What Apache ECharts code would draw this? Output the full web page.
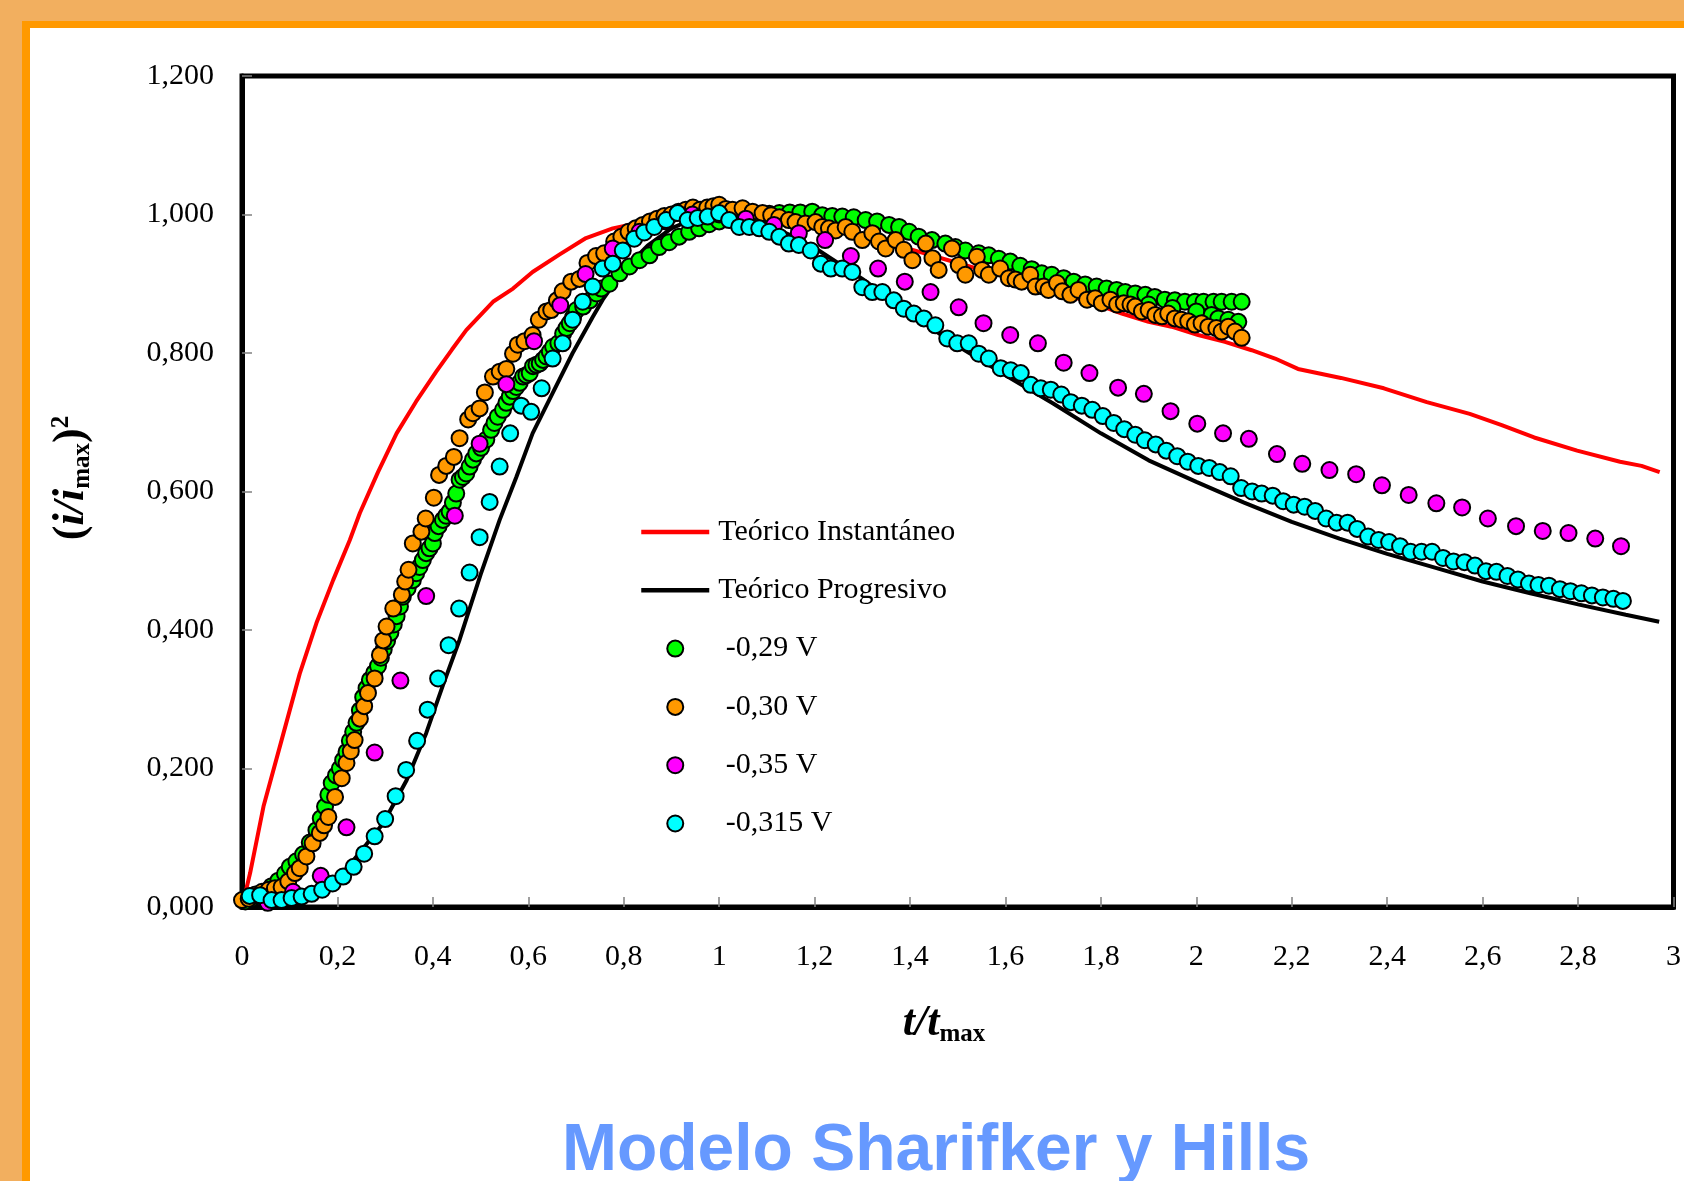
<!DOCTYPE html>
<html>
<head>
<meta charset="utf-8">
<script src="https://cdn.jsdelivr.net/npm/echarts/dist/echarts.min.js"></script>
<style>
html,body{margin:0;padding:0;background:#fff;}
#chart{width:1684px;height:1181px;}
</style>
</head>
<body>
<div id="chart"></div>
<script>
// ---------------- DATA ----------------
const seriesNames = ['Teórico Instantáneo', 'Teórico Progresivo', '-0,29 V', '-0,30 V', '-0,35 V', '-0,315 V'];
const seriesColors = ['#FF0000', '#000000', '#00FF00', '#FF9900', '#FF00FF', '#00FFFF'];

const xTicks = { min: 0, max: 3, interval: 0.2 };
const yTicks = { min: 0, max: 1.2, interval: 0.2 };

const redInstantaneo = [[0.007,0.02],[0.017,0.049],[0.045,0.145],[0.083,0.241],[0.121,0.337],[0.156,0.410],[0.191,0.472],[0.226,0.530],[0.247,0.569],[0.285,0.628],[0.324,0.684],[0.365,0.730],[0.407,0.773],[0.440,0.805],[0.470,0.833],[0.526,0.874],[0.568,0.893],[0.609,0.917],[0.665,0.942],[0.721,0.966],[0.777,0.980],[0.833,0.988],[0.868,0.993],[0.92,0.998],[1.0,1.0],[1.1,0.995],[1.2,0.985],[1.3,0.968],[1.4,0.950],[1.5,0.930],[1.6,0.910],[1.7,0.89],[1.8,0.868],[1.844,0.857],[1.900,0.845],[1.948,0.838],[2.004,0.826],[2.060,0.816],[2.116,0.804],[2.165,0.792],[2.213,0.777],[2.303,0.764],[2.393,0.749],[2.483,0.729],[2.573,0.712],[2.640,0.696],[2.708,0.678],[2.798,0.659],[2.888,0.643],[2.933,0.637],[2.971,0.628]];

const blackProgresivo = [[0.0,0.0],[0.05,0.0],[0.1,0.002],[0.15,0.012],[0.2,0.042],[0.226,0.061],[0.26,0.09],[0.296,0.121],[0.345,0.183],[0.386,0.251],[0.421,0.320],[0.456,0.386],[0.5,0.48],[0.54,0.559],[0.575,0.621],[0.609,0.684],[0.651,0.742],[0.693,0.800],[0.735,0.852],[0.756,0.877],[0.8,0.92],[0.85,0.955],[0.9,0.98],[0.95,0.995],[1.0,1.0],[1.05,0.995],[1.1,0.985],[1.15,0.97],[1.2,0.952],[1.3,0.907],[1.4,0.857],[1.5,0.81],[1.6,0.768],[1.7,0.727],[1.8,0.684],[1.9,0.645],[2.0,0.614],[2.1,0.584],[2.2,0.556],[2.3,0.532],[2.4,0.51],[2.5,0.49],[2.6,0.47],[2.7,0.453],[2.8,0.437],[2.9,0.422],[2.97,0.412]];

const green029 = [[0.007,0.008],[0.020,0.012],[0.034,0.016],[0.048,0.022],[0.062,0.030],[0.076,0.038],[0.090,0.048],[0.100,0.058],[0.114,0.066],[0.128,0.076],[0.142,0.093],[0.156,0.111],[0.165,0.128],[0.174,0.145],[0.181,0.162],[0.188,0.179],[0.197,0.190],[0.205,0.200],[0.212,0.212],[0.219,0.224],[0.226,0.240],[0.233,0.253],[0.240,0.266],[0.247,0.284],[0.254,0.303],[0.261,0.316],[0.268,0.328],[0.277,0.338],[0.285,0.348],[0.291,0.360],[0.297,0.372],[0.304,0.384],[0.311,0.396],[0.318,0.408],[0.324,0.420],[0.331,0.434],[0.337,0.448],[0.347,0.460],[0.358,0.472],[0.365,0.482],[0.372,0.491],[0.379,0.501],[0.386,0.511],[0.393,0.518],[0.400,0.525],[0.404,0.540],[0.412,0.550],[0.421,0.559],[0.428,0.565],[0.435,0.571],[0.442,0.584],[0.449,0.597],[0.456,0.617],[0.463,0.621],[0.470,0.626],[0.477,0.636],[0.484,0.646],[0.491,0.655],[0.501,0.663],[0.512,0.675],[0.522,0.689],[0.529,0.699],[0.536,0.708],[0.547,0.718],[0.554,0.728],[0.561,0.737],[0.568,0.745],[0.575,0.751],[0.582,0.757],[0.589,0.766],[0.596,0.768],[0.603,0.771],[0.610,0.781],[0.617,0.783],[0.624,0.785],[0.631,0.790],[0.638,0.795],[0.645,0.802],[0.652,0.809],[0.663,0.814],[0.673,0.828],[0.680,0.836],[0.687,0.843],[0.694,0.852],[0.701,0.862],[0.715,0.867],[0.729,0.876],[0.743,0.886],[0.753,0.893],[0.770,0.900],[0.791,0.915],[0.812,0.925],[0.833,0.934],[0.854,0.941],[0.874,0.953],[0.895,0.960],[0.916,0.968],[0.937,0.975],[0.958,0.980],[0.979,0.986],[1.000,0.990],[1.021,0.994],[1.042,0.997],[1.063,0.999],[1.084,1.000],[1.105,1.001],[1.126,1.002],[1.148,1.003],[1.170,1.003],[1.195,1.004],[1.216,0.999],[1.237,0.998],[1.258,0.997],[1.282,0.996],[1.307,0.992],[1.331,0.990],[1.356,0.985],[1.377,0.982],[1.398,0.975],[1.418,0.968],[1.446,0.963],[1.474,0.958],[1.495,0.953],[1.516,0.948],[1.544,0.944],[1.565,0.941],[1.586,0.936],[1.610,0.932],[1.631,0.926],[1.655,0.921],[1.676,0.915],[1.697,0.913],[1.722,0.908],[1.743,0.903],[1.767,0.899],[1.791,0.896],[1.812,0.893],[1.833,0.891],[1.851,0.888],[1.872,0.886],[1.893,0.884],[1.913,0.881],[1.934,0.877],[1.955,0.876],[1.976,0.874],[1.997,0.874],[2.015,0.874],[2.036,0.874],[2.053,0.874],[2.074,0.874],[2.095,0.874],[1.900,0.870],[1.950,0.865],[2.000,0.860],[2.032,0.855],[2.046,0.850],[2.067,0.848],[2.088,0.845]];

const orange030 = [[0.000,0.010],[0.014,0.012],[0.028,0.018],[0.042,0.022],[0.056,0.025],[0.069,0.027],[0.083,0.029],[0.097,0.037],[0.111,0.049],[0.121,0.056],[0.135,0.073],[0.148,0.092],[0.163,0.107],[0.172,0.118],[0.181,0.130],[0.195,0.159],[0.209,0.186],[0.219,0.208],[0.228,0.225],[0.236,0.241],[0.247,0.272],[0.256,0.290],[0.264,0.309],[0.278,0.330],[0.289,0.364],[0.296,0.385],[0.303,0.405],[0.317,0.431],[0.335,0.451],[0.342,0.470],[0.349,0.487],[0.358,0.525],[0.376,0.542],[0.385,0.561],[0.402,0.591],[0.413,0.624],[0.428,0.637],[0.444,0.650],[0.456,0.677],[0.474,0.704],[0.484,0.713],[0.498,0.720],[0.509,0.743],[0.526,0.766],[0.540,0.773],[0.554,0.777],[0.568,0.799],[0.578,0.812],[0.592,0.817],[0.609,0.826],[0.622,0.848],[0.638,0.860],[0.648,0.862],[0.660,0.876],[0.672,0.889],[0.690,0.903],[0.707,0.907],[0.724,0.930],[0.742,0.940],[0.759,0.944],[0.780,0.961],[0.795,0.968],[0.810,0.975],[0.825,0.980],[0.840,0.985],[0.855,0.990],[0.870,0.994],[0.885,0.998],[0.900,1.000],[0.915,1.004],[0.930,1.007],[0.945,1.010],[0.960,1.007],[0.975,1.010],[0.988,1.012],[1.000,1.014],[1.014,1.008],[1.028,1.007],[1.049,1.009],[1.070,1.004],[1.091,1.002],[1.109,0.999],[1.126,0.996],[1.146,0.992],[1.160,0.989],[1.181,0.987],[1.202,0.989],[1.216,0.982],[1.230,0.980],[1.244,0.977],[1.265,0.982],[1.279,0.975],[1.300,0.963],[1.321,0.973],[1.335,0.961],[1.349,0.951],[1.370,0.963],[1.387,0.949],[1.405,0.934],[1.433,0.958],[1.447,0.937],[1.460,0.920],[1.488,0.951],[1.502,0.927],[1.516,0.913],[1.540,0.939],[1.551,0.920],[1.565,0.913],[1.589,0.922],[1.607,0.908],[1.621,0.906],[1.634,0.903],[1.652,0.913],[1.663,0.896],[1.680,0.896],[1.690,0.891],[1.708,0.901],[1.719,0.889],[1.736,0.884],[1.753,0.891],[1.771,0.877],[1.788,0.879],[1.802,0.872],[1.820,0.877],[1.834,0.870],[1.848,0.872],[1.862,0.870],[1.872,0.867],[1.886,0.860],[1.900,0.862],[1.914,0.855],[1.928,0.853],[1.941,0.857],[1.955,0.850],[1.969,0.848],[1.983,0.846],[1.997,0.841],[2.011,0.843],[2.025,0.838],[2.042,0.836],[2.053,0.831],[2.067,0.838],[2.081,0.831],[2.095,0.822]];

const magenta035 = [[0.054,0.006],[0.107,0.022],[0.165,0.045],[0.219,0.115],[0.278,0.223],[0.332,0.327],[0.386,0.449],[0.446,0.565],[0.498,0.669],[0.554,0.755],[0.612,0.817],[0.667,0.869],[0.720,0.914],[0.777,0.951],[0.833,0.975],[0.888,0.990],[0.944,1.000],[1.000,1.000],[1.056,0.994],[1.115,0.985],[1.167,0.973],[1.222,0.963],[1.276,0.940],[1.333,0.922],[1.389,0.903],[1.443,0.888],[1.502,0.866],[1.554,0.843],[1.610,0.826],[1.668,0.814],[1.722,0.786],[1.776,0.771],[1.836,0.750],[1.890,0.741],[1.946,0.716],[2.002,0.698],[2.056,0.684],[2.110,0.676],[2.169,0.654],[2.222,0.640],[2.279,0.631],[2.335,0.625],[2.389,0.609],[2.445,0.595],[2.503,0.583],[2.557,0.577],[2.611,0.561],[2.670,0.550],[2.726,0.543],[2.780,0.540],[2.836,0.532],[2.890,0.521]];

const cyan0315 = [[0.016,0.016],[0.038,0.017],[0.062,0.010],[0.083,0.010],[0.104,0.013],[0.125,0.015],[0.146,0.019],[0.168,0.025],[0.190,0.034],[0.212,0.044],[0.234,0.058],[0.256,0.077],[0.278,0.102],[0.300,0.127],[0.322,0.160],[0.344,0.198],[0.367,0.240],[0.389,0.285],[0.411,0.330],[0.433,0.378],[0.455,0.431],[0.477,0.483],[0.498,0.534],[0.519,0.585],[0.540,0.636],[0.562,0.684],[0.585,0.724],[0.606,0.715],[0.628,0.749],[0.651,0.792],[0.672,0.814],[0.693,0.848],[0.714,0.874],[0.735,0.896],[0.756,0.922],[0.777,0.929],[0.798,0.948],[0.822,0.965],[0.843,0.974],[0.864,0.982],[0.889,0.992],[0.913,1.002],[0.934,0.992],[0.955,0.995],[0.976,0.997],[1.000,1.002],[1.021,0.992],[1.042,0.982],[1.063,0.982],[1.084,0.980],[1.105,0.975],[1.126,0.968],[1.146,0.958],[1.167,0.956],[1.192,0.948],[1.213,0.929],[1.234,0.922],[1.258,0.922],[1.279,0.917],[1.300,0.895],[1.321,0.888],[1.342,0.888],[1.366,0.876],[1.387,0.864],[1.408,0.857],[1.429,0.850],[1.453,0.840],[1.478,0.821],[1.499,0.814],[1.523,0.814],[1.544,0.799],[1.565,0.792],[1.590,0.778],[1.611,0.775],[1.632,0.771],[1.653,0.754],[1.674,0.749],[1.695,0.747],[1.717,0.740],[1.737,0.729],[1.760,0.724],[1.782,0.718],[1.804,0.709],[1.827,0.699],[1.849,0.690],[1.872,0.682],[1.892,0.674],[1.915,0.668],[1.937,0.659],[1.960,0.651],[1.982,0.643],[2.004,0.637],[2.027,0.634],[2.049,0.628],[2.072,0.622],[2.094,0.605],[2.117,0.600],[2.137,0.597],[2.160,0.594],[2.182,0.586],[2.204,0.581],[2.227,0.578],[2.249,0.572],[2.272,0.561],[2.294,0.555],[2.317,0.555],[2.337,0.546],[2.360,0.535],[2.382,0.530],[2.404,0.527],[2.427,0.521],[2.449,0.513],[2.472,0.513],[2.494,0.513],[2.517,0.504],[2.539,0.499],[2.562,0.498],[2.584,0.493],[2.607,0.485],[2.629,0.484],[2.652,0.478],[2.674,0.473],[2.697,0.467],[2.717,0.465],[2.739,0.464],[2.762,0.459],[2.784,0.456],[2.807,0.453],[2.829,0.450],[2.852,0.447],[2.874,0.445],[2.894,0.442]];

const chartTitle = 'Modelo Sharifker y Hills';

// ---------------- CHART ----------------
const SERIF = 'Liberation Serif';
const chart = echarts.init(document.getElementById('chart'), null, {renderer: 'canvas'});

function lineSeries(name, data, color) {
  return {
    name, type: 'line', data, symbol: 'none', showSymbol: false, smooth: false,
    lineStyle: {color, width: 4}, itemStyle: {color}, z: 2, silent: true
  };
}
function dotSeries(name, data, color) {
  return {
    name, type: 'scatter', data, symbol: 'circle', symbolSize: 16,
    itemStyle: {color, borderColor: '#000', borderWidth: 2, opacity: 1}, z: 3, silent: true
  };
}

const legendData = seriesNames.map((n, i) => i < 2
  ? {name: n, itemStyle: {opacity: 0, borderWidth: 0}, lineStyle: {width: 4.5, color: seriesColors[i]}}
  : {name: n});

const option = {
  animation: false,
  backgroundColor: '#ffffff',
  grid: {left: 242, top: 76, width: 1434, height: 831, show: true, borderColor: '#000', borderWidth: 5, backgroundColor: 'transparent'},
  xAxis: {
    type: 'value', min: xTicks.min, max: xTicks.max, interval: xTicks.interval,
    axisLine: {show: true, lineStyle: {color: '#000', width: 5}},
    axisTick: {show: true, inside: true, length: 10, lineStyle: {color: '#808080', width: 1.5}},
    splitLine: {show: false},
    axisLabel: {
      margin: 35, color: '#000', fontFamily: SERIF, fontSize: 30,
      formatter: v => String(Math.round(v * 10) / 10).replace('.', ',')
    }
  },
  yAxis: {
    type: 'value', min: yTicks.min, max: yTicks.max, interval: yTicks.interval,
    axisLine: {show: true, lineStyle: {color: '#000', width: 5}},
    axisTick: {show: true, inside: true, length: 10, lineStyle: {color: '#808080', width: 1.5}},
    splitLine: {show: false},
    axisLabel: {
      margin: 28, color: '#000', fontFamily: SERIF, fontSize: 30,
      formatter: v => v.toFixed(3).replace('.', ',')
    }
  },
  legend: {
    orient: 'vertical', left: 639, top: 517, padding: 0,
    itemGap: 28.3, itemWidth: 68, itemHeight: 16,
    selectedMode: false,
    data: legendData,
    lineStyle: {width: 4.5},
    formatter: n => (n.charAt(0) === '-' ? ' ' + n : n),
    textStyle: {fontFamily: SERIF, fontSize: 30, color: '#000', lineHeight: 30, padding: [0, 0, 0, 4]}
  },
  graphic: [
    {type: 'rect', z: -10, shape: {x: 0, y: 0, width: 1684, height: 22}, style: {fill: '#F2AF5F'}},
    {type: 'rect', z: -10, shape: {x: 0, y: 0, width: 22, height: 1181}, style: {fill: '#F2AF5F'}},
    {type: 'rect', z: -9, shape: {x: 22, y: 21, width: 1662, height: 7}, style: {fill: '#FF9900'}},
    {type: 'rect', z: -9, shape: {x: 22, y: 21, width: 8, height: 1160}, style: {fill: '#FF9900'}},
    {
      type: 'text', z: 50, x: 936, y: 1152,
      style: {text: chartTitle, fill: '#6699FF', fontFamily: 'Liberation Sans', fontWeight: 'bold', fontSize: 66, align: 'center', verticalAlign: 'middle'}
    },
    {
      type: 'text', z: 50, x: 944, y: 1024,
      style: {
        text: '{a|t/t}{b|max}', align: 'center', verticalAlign: 'middle', fill: '#000',
        rich: {
          a: {fontFamily: SERIF, fontStyle: 'italic', fontWeight: 'bold', fontSize: 44, lineHeight: 46, fill: '#000'},
          b: {fontFamily: SERIF, fontWeight: 'bold', fontSize: 25, lineHeight: 16, verticalAlign: 'bottom', fill: '#000'}
        }
      }
    },
    {
      type: 'text', z: 50, x: 72, y: 478, rotation: Math.PI / 2,
      style: {
        text: '{p|(}{a|i/i}{b|max}{p|)}{c|2}', align: 'center', verticalAlign: 'middle', fill: '#000',
        rich: {
          p: {fontFamily: SERIF, fontWeight: 'bold', fontSize: 44, lineHeight: 46, fill: '#000'},
          a: {fontFamily: SERIF, fontStyle: 'italic', fontWeight: 'bold', fontSize: 44, lineHeight: 46, fill: '#000'},
          b: {fontFamily: SERIF, fontWeight: 'bold', fontSize: 25, lineHeight: 16, verticalAlign: 'bottom', fill: '#000'},
          c: {fontFamily: SERIF, fontWeight: 'bold', fontSize: 25, lineHeight: 22, verticalAlign: 'top', fill: '#000'}
        }
      }
    }
  ],
  series: [
    lineSeries(seriesNames[0], redInstantaneo, seriesColors[0]),
    lineSeries(seriesNames[1], blackProgresivo, seriesColors[1]),
    dotSeries(seriesNames[2], green029, seriesColors[2]),
    dotSeries(seriesNames[3], orange030, seriesColors[3]),
    dotSeries(seriesNames[4], magenta035, seriesColors[4]),
    dotSeries(seriesNames[5], cyan0315, seriesColors[5])
  ]
};
chart.setOption(option);
</script>
</body>
</html>
